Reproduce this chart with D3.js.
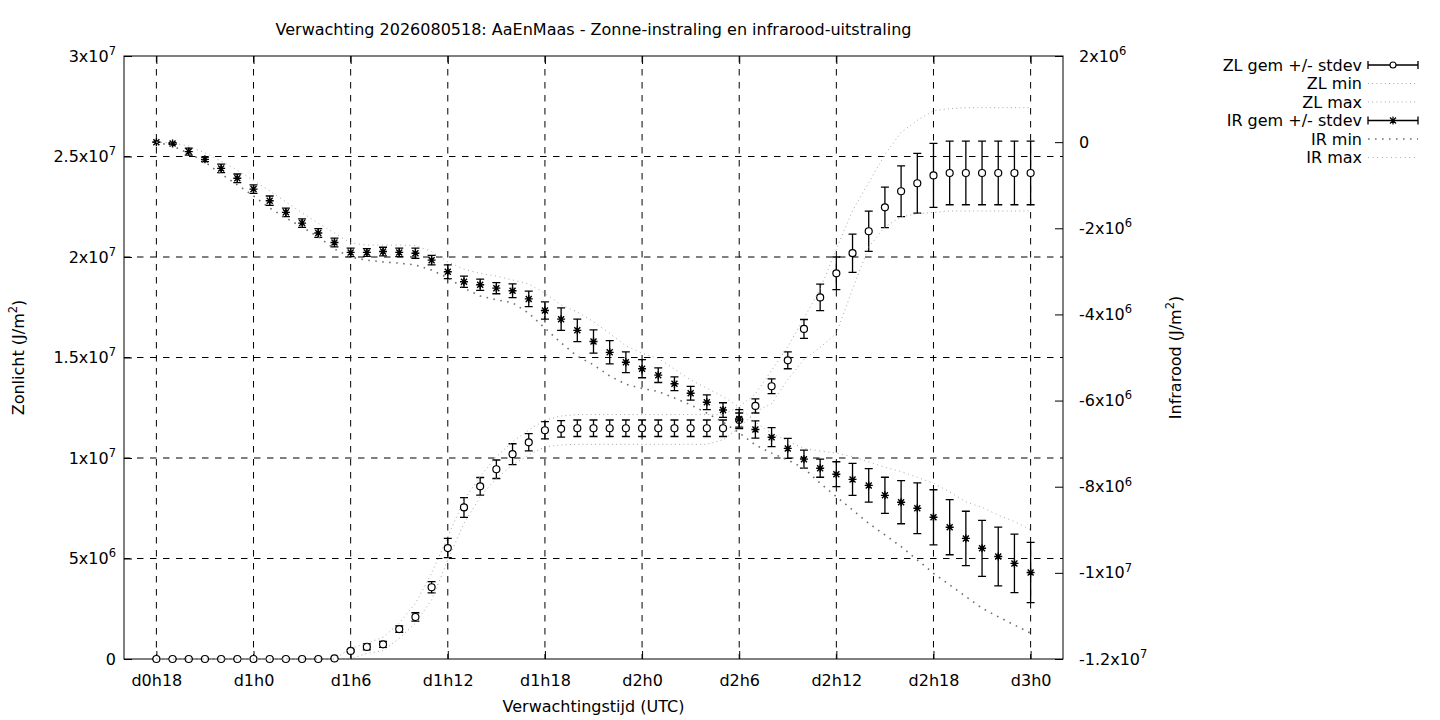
<!DOCTYPE html>
<html>
<head>
<meta charset="utf-8">
<script src="https://cdn.jsdelivr.net/npm/d3@7"></script>
<style>
  body { margin: 0; background: #fff; }
  svg { font-family: "DejaVu Sans", sans-serif; }
</style>
</head>
<body>
<svg id="chart" width="1440" height="720"></svg>
<script>
// forecast hours since d0h0
const hours = [18, 19, 20, 21, 22, 23, 24, 25, 26, 27, 28, 29, 30, 31, 32, 33, 34, 35,
  36, 37, 38, 39, 40, 41, 42, 43, 44, 45, 46, 47, 48, 49, 50, 51, 52, 53,
  54, 55, 56, 57, 58, 59, 60, 61, 62, 63, 64, 65, 66, 67, 68, 69, 70, 71, 72];

const xTickHours = [18, 24, 30, 36, 42, 48, 54, 60, 66, 72];
const xTickLabels = ["d0h18", "d1h0", "d1h6", "d1h12", "d1h18", "d2h0", "d2h6", "d2h12", "d2h18", "d3h0"];
const zlTicks = [0, 5e6, 1e7, 1.5e7, 2e7, 2.5e7, 3e7];
const irTicks = [2e6, 0, -2e6, -4e6, -6e6, -8e6, -1e7, -1.2e7];

const legendNames = ["ZL gem +/- stdev", "ZL min", "ZL max", "IR gem +/- stdev", "IR min", "IR max"];

// values below are in 10^6 J/m2
const UNIT = 1e6;

const zlMean = [0, 0, 0, 0, 0, 0, 0, 0, 0, 0, 0, 0.03,
  0.40, 0.60, 0.73, 1.49, 2.09, 3.57, 5.52, 7.54, 8.59, 9.44, 10.19, 10.78,
  11.38, 11.45, 11.48, 11.48, 11.48, 11.48, 11.48, 11.48, 11.48, 11.48, 11.48, 11.48,
  11.89, 12.59, 13.57, 14.86, 16.42, 17.99, 19.19, 20.19, 21.28, 22.47, 23.27, 23.67,
  24.06, 24.18, 24.18, 24.18, 24.18, 24.18, 24.18];

const zlStd = [0, 0, 0, 0, 0, 0, 0, 0, 0, 0, 0, 0,
  0.05, 0.15, 0.15, 0.16, 0.21, 0.28, 0.48, 0.49, 0.44, 0.46, 0.52, 0.43,
  0.43, 0.41, 0.41, 0.41, 0.41, 0.41, 0.41, 0.41, 0.41, 0.41, 0.41, 0.41,
  0.35, 0.35, 0.37, 0.42, 0.47, 0.66, 0.81, 0.95, 1.00, 1.01, 1.26, 1.49,
  1.59, 1.58, 1.58, 1.58, 1.58, 1.58, 1.58];

const zlMin = [0, 0, 0, 0, 0, 0, 0, 0, 0, 0, 0, 0,
  0, 0.28, 0.41, 1.03, 1.78, 2.94, 4.93, 6.75, 8.07, 8.99, 9.65, 10.15,
  10.56, 10.65, 10.68, 10.68, 10.68, 10.68, 10.68, 10.68, 10.68, 10.68, 10.68, 10.90,
  11.50, 12.30, 12.70, 13.90, 14.90, 15.50, 16.20, 18.40, 20.50, 21.50, 22.00, 22.15,
  22.22, 22.29, 22.29, 22.29, 22.29, 22.29, 22.29];

const zlMax = [0, 0, 0, 0, 0, 0, 0, 0, 0, 0, 0, 0,
  0.53, 0.78, 1.08, 1.78, 2.77, 4.26, 6.08, 7.91, 9.07, 10.06, 10.81, 11.39,
  11.89, 12.09, 12.16, 12.16, 12.16, 12.16, 12.16, 12.16, 12.16, 12.16, 12.16, 12.16,
  12.55, 13.20, 14.35, 15.54, 16.95, 18.40, 20.40, 22.30, 23.70, 25.10, 26.20, 26.80,
  27.28, 27.38, 27.43, 27.43, 27.43, 27.43, 27.43];

const irMean = [0.00, -0.03, -0.22, -0.40, -0.61, -0.84,
  -1.09, -1.36, -1.63, -1.88, -2.11, -2.33,
  -2.56, -2.56, -2.54, -2.56, -2.58, -2.74,
  -3.01, -3.24, -3.31, -3.39, -3.45, -3.64,
  -3.91, -4.11, -4.37, -4.63, -4.88, -5.11,
  -5.26, -5.41, -5.61, -5.83, -6.04, -6.22,
  -6.43, -6.67, -6.85, -7.11, -7.36, -7.57,
  -7.71, -7.83, -7.97, -8.20, -8.36, -8.50,
  -8.71, -8.94, -9.20, -9.43, -9.62, -9.78,
  -9.99];

const irStd = [0.00, 0.02, 0.08, 0.05, 0.10, 0.10,
  0.10, 0.11, 0.10, 0.10, 0.10, 0.10,
  0.10, 0.09, 0.10, 0.10, 0.12, 0.11,
  0.16, 0.13, 0.13, 0.13, 0.16, 0.18,
  0.20, 0.26, 0.26, 0.27, 0.27, 0.24,
  0.21, 0.17, 0.16, 0.16, 0.17, 0.17,
  0.22, 0.20, 0.22, 0.23, 0.21, 0.21,
  0.29, 0.37, 0.39, 0.42, 0.50, 0.59,
  0.64, 0.64, 0.63, 0.65, 0.68, 0.68,
  0.70];

const irMin = [0.00, -0.09, -0.26, -0.46, -0.74, -0.99,
  -1.25, -1.53, -1.76, -1.97, -2.20, -2.48,
  -2.67, -2.74, -2.78, -2.81, -2.85, -2.97,
  -3.15, -3.39, -3.57, -3.66, -3.73, -3.97,
  -4.32, -4.66, -4.97, -5.17, -5.43, -5.62,
  -5.72, -5.79, -5.94, -6.10, -6.29, -6.50,
  -6.75, -7.03, -7.22, -7.38, -7.57, -7.92,
  -8.23, -8.54, -8.85, -9.12, -9.39, -9.70,
  -10.01, -10.28, -10.55, -10.82, -11.02, -11.21,
  -11.40];

const irMax = [0.00, -0.02, -0.09, -0.25, -0.44, -0.65,
  -0.89, -1.13, -1.39, -1.64, -1.88, -2.11,
  -2.34, -2.39, -2.39, -2.39, -2.40, -2.54,
  -2.78, -2.95, -3.05, -3.11, -3.20, -3.29,
  -3.51, -3.78, -3.94, -4.17, -4.44, -4.73,
  -4.90, -5.02, -5.27, -5.52, -5.71, -5.91,
  -6.15, -6.50, -6.76, -6.94, -7.11, -7.17,
  -7.22, -7.30, -7.42, -7.55, -7.65, -7.78,
  -7.92, -8.12, -8.35, -8.48, -8.66, -8.81,
  -9.00];

// Plot area
const plot = { left: 124, right: 1063, top: 56, bottom: 659 };

const svg = d3.select("#chart");

const x = d3.scaleLinear().domain([16, 74]).range([plot.left, plot.right]);
const yL = d3.scaleLinear().domain([0, 3e7]).range([plot.bottom, plot.top]);
const yR = d3.scaleLinear().domain([-1.2e7, 2e6]).range([plot.bottom, plot.top]);

const zlRows = hours.map((h, i) => ({ h, m: zlMean[i] * UNIT, s: zlStd[i] * UNIT }));
const irRows = hours.map((h, i) => ({ h, m: irMean[i] * UNIT, s: irStd[i] * UNIT }));

// line styles for the envelopes
const styles = {
  zlMin: { stroke: "#a8a8a8", width: 1, dash: "1,3.2" },
  zlMax: { stroke: "#a8a8a8", width: 1, dash: "1,3.2" },
  irMin: { stroke: "#707070", width: 1.6, dash: "1.6,5.4" },
  irMax: { stroke: "#a8a8a8", width: 1, dash: "1,3.6" }
};

// Grid
const grid = svg.append("g").attr("class", "grid")
  .attr("stroke", "#000").attr("stroke-width", 1).attr("stroke-dasharray", "6.5,6.5");

grid.selectAll("line.v").data(xTickHours).join("line")
  .attr("class", "v")
  .attr("x1", d => x(d)).attr("x2", d => x(d))
  .attr("y1", plot.top).attr("y2", plot.bottom);

grid.selectAll("line.h").data(zlTicks.filter(d => d > 0 && d < 3e7)).join("line")
  .attr("class", "h")
  .attr("x1", plot.left).attr("x2", plot.right)
  .attr("y1", d => yL(d)).attr("y2", d => yL(d));

// Label like 2.5x10^7 with a real superscript
function sciLabel(sel) {
  sel.each(function (d) {
    const t = d3.select(this);
    t.text(null);
    if (d === 0) { t.text("0"); return; }
    const e = Math.floor(Math.log10(Math.abs(d)) + 1e-9);
    const m = +(d / Math.pow(10, e)).toFixed(2);
    t.append("tspan").text(m + "x10");
    t.append("tspan").attr("dy", -6.7).attr("font-size", "11.5px").text(e);
  });
}

function styleAxis(g) {
  g.select(".domain").remove();
  g.attr("font-family", null).attr("font-size", "16px");
  g.selectAll(".tick line").attr("stroke", "#000");
  g.selectAll(".tick text").attr("fill", "#000");
}

// X axes (bottom with labels, top mirrored ticks)
svg.append("g")
  .attr("transform", `translate(0,${plot.bottom})`)
  .call(d3.axisBottom(x).tickValues(xTickHours)
    .tickFormat((d, i) => xTickLabels[i]).tickSize(-8).tickPadding(16))
  .call(styleAxis);

svg.append("g")
  .attr("transform", `translate(0,${plot.top})`)
  .call(d3.axisTop(x).tickValues(xTickHours).tickFormat("").tickSize(-8))
  .call(styleAxis);

// Y axes
svg.append("g")
  .attr("transform", `translate(${plot.left},0)`)
  .call(d3.axisLeft(yL).tickValues(zlTicks).tickSize(-8).tickPadding(8))
  .call(styleAxis)
  .selectAll(".tick text").call(sciLabel);

svg.append("g")
  .attr("transform", `translate(${plot.right},0)`)
  .call(d3.axisRight(yR).tickValues(irTicks).tickSize(-8).tickPadding(16))
  .call(styleAxis)
  .selectAll(".tick text").call(sciLabel);

// Border
svg.append("rect")
  .attr("x", plot.left).attr("y", plot.top)
  .attr("width", plot.right - plot.left).attr("height", plot.bottom - plot.top)
  .attr("fill", "none").attr("stroke", "#000").attr("stroke-width", 1);

// helpers for marks
function errPath(cx, y1, y2, cap) {
  return `M${cx},${y1}V${y2}M${cx - cap},${y1}H${cx + cap}M${cx - cap},${y2}H${cx + cap}`;
}
function starPath(cx, cy) {
  const r = 4, a = 3;
  return `M${cx - r},${cy}H${cx + r}M${cx},${cy - r}V${cy + r}` +
    `M${cx - a},${cy - a}L${cx + a},${cy + a}M${cx - a},${cy + a}L${cx + a},${cy - a}`;
}
function envelope(values, yScale, st) {
  const line = d3.line().x((d, i) => x(hours[i])).y(d => yScale(d * UNIT));
  svg.append("path")
    .datum(values)
    .attr("fill", "none")
    .attr("stroke", st.stroke)
    .attr("stroke-width", st.width)
    .attr("stroke-dasharray", st.dash)
    .attr("d", line);
}

// ZL mean +/- stdev
const zlG = svg.append("g");
zlG.selectAll("path").data(zlRows).join("path")
  .attr("d", d => errPath(x(d.h), yL(d.m + d.s), yL(d.m - d.s), 4))
  .attr("stroke", "#000").attr("stroke-width", 1.3).attr("fill", "none");
zlG.selectAll("circle").data(zlRows).join("circle")
  .attr("cx", d => x(d.h)).attr("cy", d => yL(d.m)).attr("r", 3.5)
  .attr("fill", "#fff").attr("stroke", "#000").attr("stroke-width", 1.2);

envelope(zlMin, yL, styles.zlMin);
envelope(zlMax, yL, styles.zlMax);

// IR mean +/- stdev (right axis)
const irG = svg.append("g");
irG.selectAll("path.err").data(irRows).join("path")
  .attr("class", "err")
  .attr("d", d => errPath(x(d.h), yR(d.m + d.s), yR(d.m - d.s), 4))
  .attr("stroke", "#000").attr("stroke-width", 1.3).attr("fill", "none");
irG.selectAll("path.pt").data(irRows).join("path")
  .attr("class", "pt")
  .attr("d", d => starPath(x(d.h), yR(d.m)))
  .attr("stroke", "#000").attr("stroke-width", 1.4).attr("fill", "none");

envelope(irMin, yR, styles.irMin);
envelope(irMax, yR, styles.irMax);

// Titles
svg.append("text")
  .attr("x", (plot.left + plot.right) / 2).attr("y", 34.5)
  .attr("text-anchor", "middle").style("font-size", "16px")
  .text("Verwachting 2026080518: AaEnMaas - Zonne-instraling en infrarood-uitstraling");

svg.append("text")
  .attr("x", (plot.left + plot.right) / 2).attr("y", 712)
  .attr("text-anchor", "middle").style("font-size", "16px")
  .text("Verwachtingstijd (UTC)");

function unitLabel(cx, name) {
  const t = svg.append("text")
    .attr("transform", `translate(${cx},${(plot.top + plot.bottom) / 2}) rotate(-90)`)
    .attr("text-anchor", "middle").attr("dy", "0.35em")
    .style("font-size", "16px");
  t.append("tspan").text(name + " (J/m");
  t.append("tspan").attr("dy", -6.7).attr("font-size", "11.5px").text("2");
  t.append("tspan").attr("dy", 6.7).text(")");
}
unitLabel(18, "Zonlicht");
unitLabel(1175, "Infrarood");

// Legend
const legend = svg.append("g").attr("class", "legend");
const lgX1 = 1368, lgX2 = 1418, lgTextX = 1362;
legendNames.forEach((name, i) => {
  const ly = 65 + i * 18.5;
  legend.append("text")
    .attr("x", lgTextX).attr("y", ly).attr("dy", "0.35em")
    .attr("text-anchor", "end").style("font-size", "16px")
    .text(name);
  if (i === 0 || i === 3) {
    legend.append("path")
      .attr("d", `M${lgX1},${ly}H${lgX2}M${lgX1},${ly - 4}V${ly + 4}M${lgX2},${ly - 4}V${ly + 4}`)
      .attr("stroke", "#000").attr("stroke-width", 1.3).attr("fill", "none");
    const mid = (lgX1 + lgX2) / 2;
    if (i === 0) {
      legend.append("circle").attr("cx", mid).attr("cy", ly).attr("r", 3)
        .attr("fill", "#fff").attr("stroke", "#000").attr("stroke-width", 1.1);
    } else {
      legend.append("path").attr("d", starPath(mid, ly))
        .attr("stroke", "#000").attr("stroke-width", 1.2).attr("fill", "none");
    }
  } else {
    const st = [null, styles.zlMin, styles.zlMax, null, styles.irMin, styles.irMax][i];
    legend.append("line")
      .attr("x1", lgX1).attr("x2", lgX2).attr("y1", ly).attr("y2", ly)
      .attr("stroke", st.stroke).attr("stroke-width", st.width)
      .attr("stroke-dasharray", st.dash);
  }
});
</script>
</body>
</html>
